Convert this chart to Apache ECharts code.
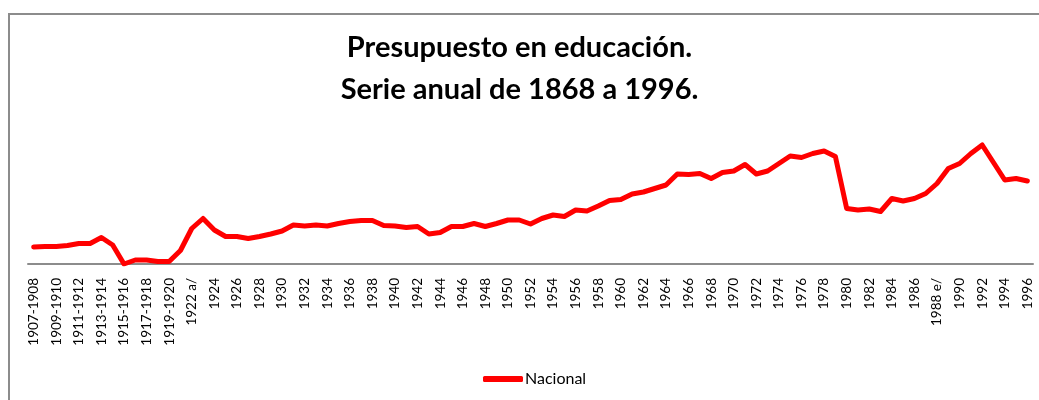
<!DOCTYPE html>
<html>
<head>
<meta charset="utf-8">
<script src="https://cdn.jsdelivr.net/npm/echarts@6/dist/echarts.min.js"></script>
<style>
  html, body { margin: 0; padding: 0; background: #fff; }
  #chart { width: 1039px; height: 400px; }
</style>
</head>
<body>
<div id="chart"></div>
<script>
// Categories: fiscal years 1907-1908 .. 1919-1920, then calendar years to 1996
const categories = [
  '1907-1908', '1908-1909', '1909-1910', '1910-1911', '1911-1912', '1912-1913',
  '1913-1914', '1914-1915', '1915-1916', '1916-1917', '1917-1918', '1918-1919',
  '1919-1920', '1921', '1922 a/', '1923', '1924', '1925', '1926', '1927', '1928',
  '1929', '1930', '1931', '1932', '1933', '1934', '1935', '1936', '1937', '1938',
  '1939', '1940', '1941', '1942', '1943', '1944', '1945', '1946', '1947', '1948',
  '1949', '1950', '1951', '1952', '1953', '1954', '1955', '1956', '1957', '1958',
  '1959', '1960', '1961', '1962', '1963', '1964', '1965', '1966', '1967', '1968',
  '1969', '1970', '1971', '1972', '1973', '1974', '1975', '1976', '1977', '1978',
  '1979', '1980', '1981', '1982', '1983', '1984', '1985', '1986', '1987', '1988 e/',
  '1989', '1990', '1991', '1992', '1993', '1994', '1995', '1996'
]

// Values (no axis scale shown, relative units)
const nacional = [
  3.4, 3.5, 3.5, 3.7, 4.1, 4.1, 5.3, 3.8, 0.0, 0.8, 0.8, 0.5, 0.5, 2.7, 7.1, 9.1,
  6.8, 5.5, 5.5, 5.1, 5.5, 6.0, 6.6, 7.8, 7.6, 7.8, 7.6, 8.1, 8.5, 8.7, 8.7, 7.7,
  7.6, 7.3, 7.5, 6.0, 6.3, 7.5, 7.5, 8.1, 7.5, 8.1, 8.8, 8.8, 8.0, 9.1, 9.8, 9.5,
  10.8, 10.6, 11.6, 12.7, 12.9, 14.0, 14.4, 15.1, 15.8, 18.0, 17.9, 18.1, 17.1, 18.3,
  18.6, 19.9, 18.0, 18.6, 20.1, 21.6, 21.3, 22.1, 22.6, 21.5, 11.1, 10.8, 11.0, 10.5,
  13.1, 12.6, 13.1, 14.1, 16.1, 19.1, 20.1, 22.1, 23.8, 20.3, 16.8, 17.1, 16.6
]

const fontFamily = 'Lato, "Open Sans", sans-serif'

const chart = echarts.init(document.getElementById('chart'))

chart.setOption({
  backgroundColor: '#fff',
  animation: false,
  title: {
    text: 'Presupuesto en educación.\nSerie anual de 1868 a 1996.',
    left: 'center',
    top: 22,
    textStyle: {
      color: '#000',
      fontSize: 29,
      fontWeight: 'bold',
      fontFamily: fontFamily,
      lineHeight: 42
    }
  },
  graphic: [
    {
      // outer chart frame, cut off at right and bottom
      type: 'rect',
      shape: { x: 9, y: 14, width: 1100, height: 500 },
      style: { fill: 'none', stroke: '#8c8c8c', lineWidth: 2 },
      silent: true
    }
  ],
  legend: {
    bottom: 8,
    left: 478,
    itemWidth: 40,
    itemHeight: 6,
    itemGap: 2,
    textStyle: { color: '#000', fontSize: 16, fontFamily: fontFamily, padding: [0, 0, 0, -3] },
    data: [{ name: 'Nacional', icon: 'roundRect' }]
  },
  grid: {
    left: 28,
    right: 6,
    top: 104,
    bottom: 136,
    containLabel: false
  },
  xAxis: {
    type: 'category',
    data: categories,
    boundaryGap: true,
    axisLine: { show: true, lineStyle: { color: '#8c8c8c', width: 2 } },
    axisTick: { show: false },
    axisLabel: {
      interval: 1,
      rotate: 90,
      color: '#000',
      fontSize: 13.5,
      fontFamily: fontFamily,
      margin: 14
    },
    splitLine: { show: false }
  },
  yAxis: {
    type: 'value',
    min: 0,
    max: 32,
    show: false
  },
  series: [
    {
      name: 'Nacional',
      type: 'line',
      data: nacional,
      symbol: 'none',
      lineStyle: { color: '#ff0000', width: 5, cap: 'round', join: 'round' },
      itemStyle: { color: '#ff0000' }
    }
  ]
})
</script>
</body>
</html>
